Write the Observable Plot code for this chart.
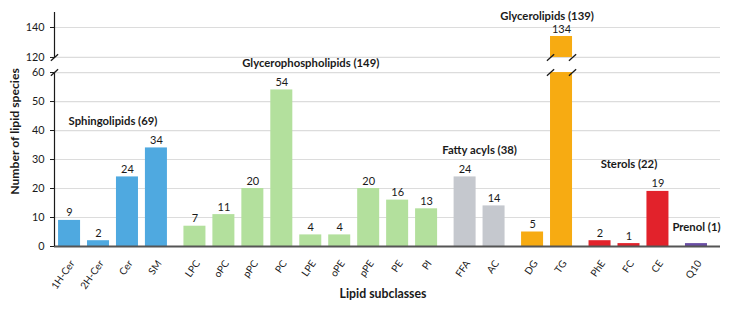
<!DOCTYPE html>
<html>
<head>
<meta charset="utf-8">
<script src="https://cdn.jsdelivr.net/npm/d3@7"></script>
<script src="https://cdn.jsdelivr.net/npm/@observablehq/plot@0.6"></script>
<style>
  html, body { margin: 0; padding: 0; background: #fff; }
  #chart svg { display: block; }
</style>
</head>
<body>
<div id="chart"></div>
<script>
// Lipid subclasses, their species counts and the class each belongs to
const subclasses = ["1H-Cer", "2H-Cer", "Cer", "SM", "LPC", "oPC", "pPC", "PC", "LPE", "oPE", "pPE", "PE", "PI", "FFA", "AC", "DG", "TG", "PhE", "FC", "CE", "Q10"];
const species = [9, 2, 24, 34, 7, 11, 20, 54, 4, 4, 20, 16, 13, 24, 14, 5, 134, 2, 1, 19, 1];
const subclassClass = [
  "Sphingolipids", "Sphingolipids", "Sphingolipids", "Sphingolipids",
  "Glycerophospholipids", "Glycerophospholipids", "Glycerophospholipids", "Glycerophospholipids",
  "Glycerophospholipids", "Glycerophospholipids", "Glycerophospholipids", "Glycerophospholipids",
  "Glycerophospholipids",
  "Fatty acyls", "Fatty acyls",
  "Glycerolipids", "Glycerolipids",
  "Sterols", "Sterols", "Sterols",
  "Prenol"
];
const lipidClasses = ["Sphingolipids", "Glycerophospholipids", "Fatty acyls", "Glycerolipids", "Sterols", "Prenol"];
const classTotals = [69, 149, 38, 139, 22, 1];
const classColors = ["#4fa9e0", "#b3e09d", "#c5c8ce", "#f7ab12", "#e2222b", "#6a4ea5"];
const yTicks = [0, 10, 20, 30, 40, 50, 60, 120, 140];

// Broken value axis: lower panel 0–60, upper panel 120–150 drawn at about half
// the scale, separated by a short gap. brk() maps a count onto that axis.
const lowerTop = 60, upperBottom = 120, upperTop = 150;
const gapUnits = 5.2, upperRatio = 0.517;
const brk = v => v <= lowerTop ? v : lowerTop + gapUnits + (v - upperBottom) * upperRatio;
const tickLabel = new Map(yTicks.map(t => [brk(t), String(t)]));

// Extra spacing (in bar steps) between lipid classes
const classGap = 0.33;
const halfBar = 0.38;

const rows = subclasses.map((name, i) => {
  const cls = subclassClass[i];
  const ci = lipidClasses.indexOf(cls);
  return {name, value: species[i], cls, pos: i + ci * classGap, color: classColors[ci]};
});
const nameByPos = new Map(rows.map(d => [d.pos, d.name]));

const classRows = lipidClasses.map((cls, ci) => {
  const members = rows.filter(d => d.cls === cls);
  return {
    cls,
    label: `${cls} (${classTotals[ci]})`,
    pos: d3.mean(members, d => d.pos),
    top: d3.max(members, d => d.value),
    size: members.length
  };
});
// A class with a single subclass shows its count only in the heading
const singleClass = new Set(classRows.filter(d => d.size === 1).map(d => d.cls));

// Distance (px) of each class heading above its tallest bar
const headingOffset = cls => ({"Glycerolipids": -20.5, "Prenol": -16}[cls] ?? -27);
const offsets = [...new Set(classRows.map(d => headingOffset(d.cls)))];

const xMin = -0.52, xMax = rows[rows.length - 1].pos + 0.83;

const lowerBars = rows.map(d => ({...d, y2: Math.min(d.value, lowerTop)}));
const upperBars = rows.filter(d => d.value > upperBottom);

// Slash marks where the axis and the tall bar are cut
const slash = {
  draw(context, size) {
    const s = Math.sqrt(size / Math.PI);
    context.moveTo(-s, s * 0.9);
    context.lineTo(s, -s * 0.9);
  }
};
const breaks = [
  ...[lowerTop, upperBottom].map(y => ({x: xMin, y})),
  ...upperBars.flatMap(d => [lowerTop, upperBottom].flatMap(y => [{x: d.pos - halfBar, y}, {x: d.pos + halfBar, y}]))
];

const font = "Lato, 'Open Sans', sans-serif";
const ink = "#1a1a1a";

const chart = Plot.plot({
  width: 730,
  height: 309,
  marginTop: 12,
  marginBottom: 63,
  marginLeft: 54,
  marginRight: 10,
  style: {fontFamily: font, fontSize: "11px", color: ink, background: "#fff"},
  x: {domain: [xMin, xMax], axis: null},
  y: {domain: [0, brk(upperTop)], axis: null},
  marks: [
    Plot.gridY(yTicks.filter(t => t > 0).map(brk), {stroke: "#dcdcdc", strokeOpacity: 1, strokeWidth: 1.2}),
    Plot.rectY(lowerBars, {x1: d => d.pos - halfBar, x2: d => d.pos + halfBar, y1: 0, y2: d => brk(d.y2), fill: "color"}),
    Plot.rectY(upperBars, {x1: d => d.pos - halfBar, x2: d => d.pos + halfBar, y1: brk(upperBottom), y2: d => brk(d.value), fill: "color"}),
    Plot.ruleY([0], {stroke: "#555", strokeWidth: 2}),
    Plot.ruleX([xMin], {y1: 0, y2: brk(lowerTop), stroke: ink, strokeWidth: 1.2}),
    Plot.ruleX([xMin], {y1: brk(upperBottom), y2: brk(upperTop), stroke: ink, strokeWidth: 1.2}),
    Plot.dot(breaks, {x: "x", y: d => brk(d.y), symbol: slash, r: 3.6, stroke: ink, strokeWidth: 1.3, fill: "none"}),
    Plot.axisY(yTicks.map(brk), {tickFormat: d => tickLabel.get(d), tickSize: 4, tickPadding: 6, fontSize: 10.8, stroke: ink, label: null}),
    Plot.axisX(rows.map(d => d.pos), {
      tickFormat: d => nameByPos.get(d),
      tickSize: 0, tickPadding: 13, tickRotate: -55, fontSize: 10, dx: 3, dy: 2, label: null
    }),
    // Count above each bar
    Plot.text(rows.filter(d => !singleClass.has(d.cls)), {x: "pos", y: d => brk(d.value), text: d => String(d.value), dy: -7.5, fontSize: 11, fill: ink}),
    // Class headings
    ...offsets.map(off => Plot.text(classRows.filter(d => headingOffset(d.cls) === off), {
      x: "pos", y: d => brk(d.top), text: "label", dy: off, fontWeight: "bold", fontSize: 11.3, fill: ink
    })),
    // Axis titles
    Plot.text(["Number of lipid species"], {frameAnchor: "left", textAnchor: "middle", rotate: -90, dx: -39, dy: 2, fontWeight: "bold", fontSize: 12.2, fill: ink}),
    Plot.text(["Lipid subclasses"], {x: [(rows[0].pos + rows[rows.length - 1].pos) / 2], frameAnchor: "bottom", dy: 51, fontWeight: "bold", fontSize: 12.3, fill: ink})
  ]
});

document.getElementById("chart").appendChild(chart);
</script>
</body>
</html>
